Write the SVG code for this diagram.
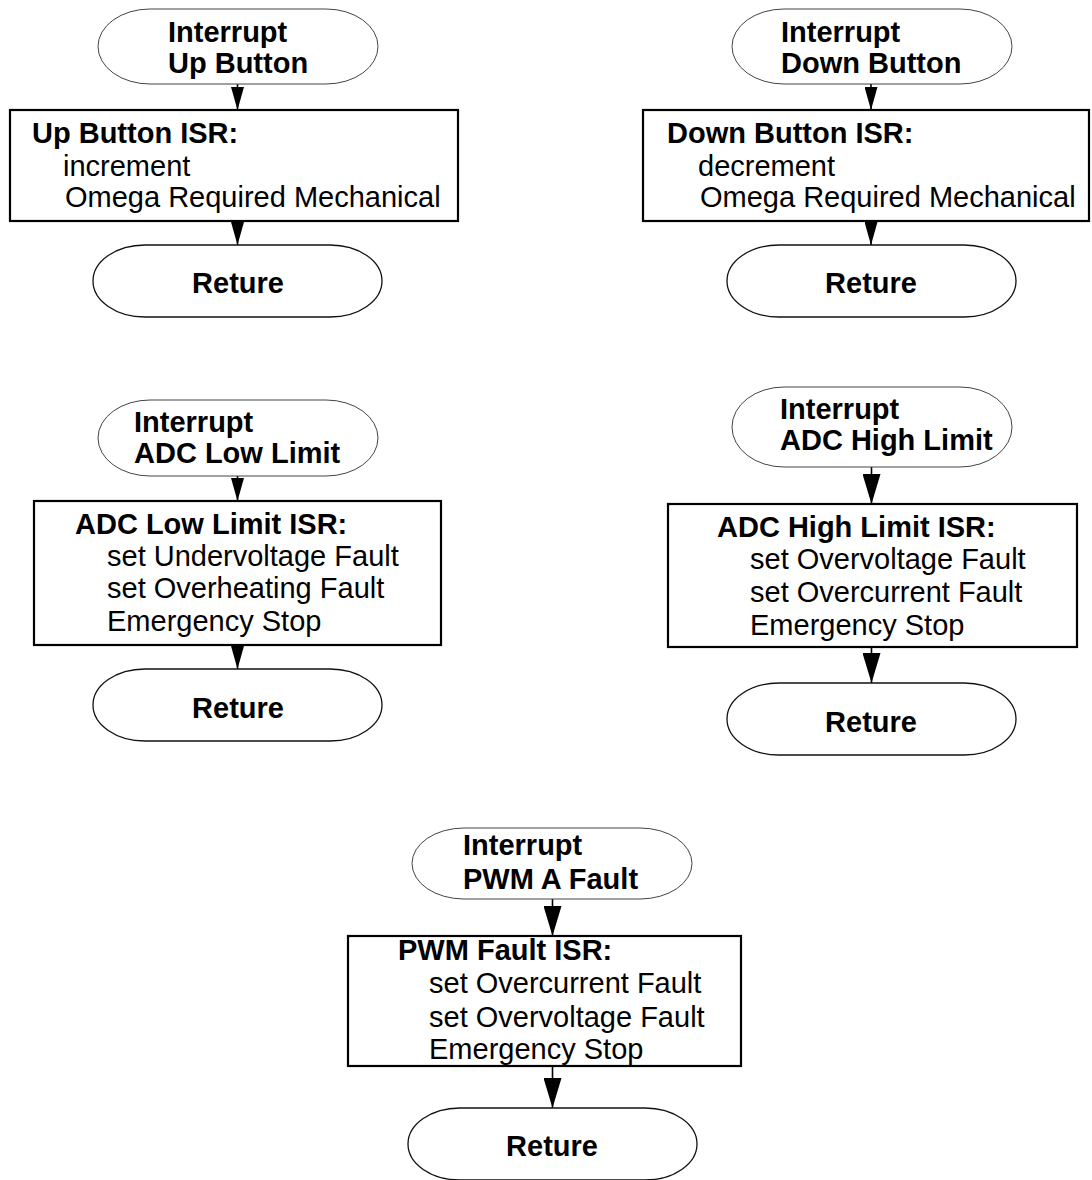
<svg xmlns="http://www.w3.org/2000/svg" width="1092" height="1180" viewBox="0 0 1092 1180">
<defs>
<style>
.start{fill:#fff;stroke:#444;stroke-width:1}
.ret{fill:#fff;stroke:#111;stroke-width:1.3}
.box{fill:#fff;stroke:#000;stroke-width:2.2}
.b{font-family:"Liberation Sans",Arial,sans-serif;font-size:29px;font-weight:bold;fill:#000}
.r{font-family:"Liberation Sans",Arial,sans-serif;font-size:29px;fill:#000}
.c{text-anchor:middle}
.ln{stroke:#000;stroke-width:1.6;fill:none}
.sm{marker-end:url(#ahS)}
.lg{marker-end:url(#ahL)}
</style>
<marker id="ahS" markerUnits="userSpaceOnUse" markerWidth="23" markerHeight="13" viewBox="0 0 23 13" refX="23" refY="6.5" orient="auto">
<path d="M0,0 L23,6.5 L0,13 Z" fill="#000"/>
</marker>
<marker id="ahL" markerUnits="userSpaceOnUse" markerWidth="30" markerHeight="18" viewBox="0 0 30 18" refX="30" refY="9" orient="auto">
<path d="M0,0 L30,9 L0,18 Z" fill="#000"/>
</marker>
</defs>
<g id="connectors">
<line class="ln sm" x1="237.5" y1="84" x2="237.5" y2="110"/>
<line class="ln sm" x1="237.5" y1="221" x2="237.5" y2="245"/>
<line class="ln sm" x1="871" y1="84" x2="871" y2="110"/>
<line class="ln sm" x1="871" y1="221" x2="871" y2="245"/>
<line class="ln sm" x1="237.5" y1="476" x2="237.5" y2="501"/>
<line class="ln sm" x1="237.5" y1="645" x2="237.5" y2="669"/>
<line class="ln lg" x1="871.5" y1="467" x2="871.5" y2="504"/>
<line class="ln lg" x1="871.5" y1="647" x2="871.5" y2="683"/>
<line class="ln lg" x1="552.5" y1="899" x2="552.5" y2="936"/>
<line class="ln lg" x1="552.5" y1="1066" x2="552.5" y2="1108"/>
</g>
<g id="n1-start"><rect class="start" x="98" y="9" width="280" height="75" rx="52" ry="37.5"/><text class="b" x="168" y="42">Interrupt</text><text class="b" x="168" y="73">Up Button</text></g>
<g id="n1-isr"><rect class="box" x="10" y="110" width="448" height="111"/><text class="b" x="32" y="143">Up Button ISR:</text><text class="r" x="63" y="176">increment</text><text class="r" x="65" y="207">Omega Required Mechanical</text></g>
<g id="n1-ret"><rect class="ret" x="93" y="245" width="289" height="72" rx="52" ry="36"/><text class="b c" x="238" y="293">Reture</text></g>
<g id="n2-start"><rect class="start" x="732" y="9" width="280" height="75" rx="52" ry="37.5"/><text class="b" x="781" y="42">Interrupt</text><text class="b" x="781" y="73">Down Button</text></g>
<g id="n2-isr"><rect class="box" x="643" y="110" width="446" height="111"/><text class="b" x="667" y="143">Down Button ISR:</text><text class="r" x="698" y="176">decrement</text><text class="r" x="700" y="207">Omega Required Mechanical</text></g>
<g id="n2-ret"><rect class="ret" x="727" y="245" width="289" height="72" rx="52" ry="36"/><text class="b c" x="871" y="293">Reture</text></g>
<g id="n3-start"><rect class="start" x="98" y="400" width="280" height="76" rx="52" ry="38"/><text class="b" x="134" y="432">Interrupt</text><text class="b" x="134" y="463">ADC Low Limit</text></g>
<g id="n3-isr"><rect class="box" x="34" y="501" width="407" height="144"/><text class="b" x="75" y="534">ADC Low Limit ISR:</text><text class="r" x="107" y="566">set Undervoltage Fault</text><text class="r" x="107" y="598">set Overheating Fault</text><text class="r" x="107" y="631">Emergency Stop</text></g>
<g id="n3-ret"><rect class="ret" x="93" y="669" width="289" height="72" rx="52" ry="36"/><text class="b c" x="238" y="718">Reture</text></g>
<g id="n4-start"><rect class="start" x="732" y="387" width="280" height="80" rx="52" ry="40"/><text class="b" x="780" y="419">Interrupt</text><text class="b" x="780" y="450">ADC High Limit</text></g>
<g id="n4-isr"><rect class="box" x="668" y="504" width="409" height="143"/><text class="b" x="717" y="537">ADC High Limit ISR:</text><text class="r" x="750" y="569">set Overvoltage Fault</text><text class="r" x="750" y="602">set Overcurrent Fault</text><text class="r" x="750" y="635">Emergency Stop</text></g>
<g id="n4-ret"><rect class="ret" x="727" y="683" width="289" height="72" rx="52" ry="36"/><text class="b c" x="871" y="732">Reture</text></g>
<g id="n5-start"><rect class="start" x="412" y="828" width="280" height="71" rx="52" ry="35.5"/><text class="b" x="463" y="855">Interrupt</text><text class="b" x="463" y="889">PWM A Fault</text></g>
<g id="n5-isr"><rect class="box" x="348" y="936" width="393" height="130"/><text class="b" x="398" y="960">PWM Fault ISR:</text><text class="r" x="429" y="993">set Overcurrent Fault</text><text class="r" x="429" y="1027">set Overvoltage Fault</text><text class="r" x="429" y="1059">Emergency Stop</text></g>
<g id="n5-ret"><rect class="ret" x="408" y="1108" width="289" height="72" rx="52" ry="36"/><text class="b c" x="552" y="1156">Reture</text></g>
</svg>
